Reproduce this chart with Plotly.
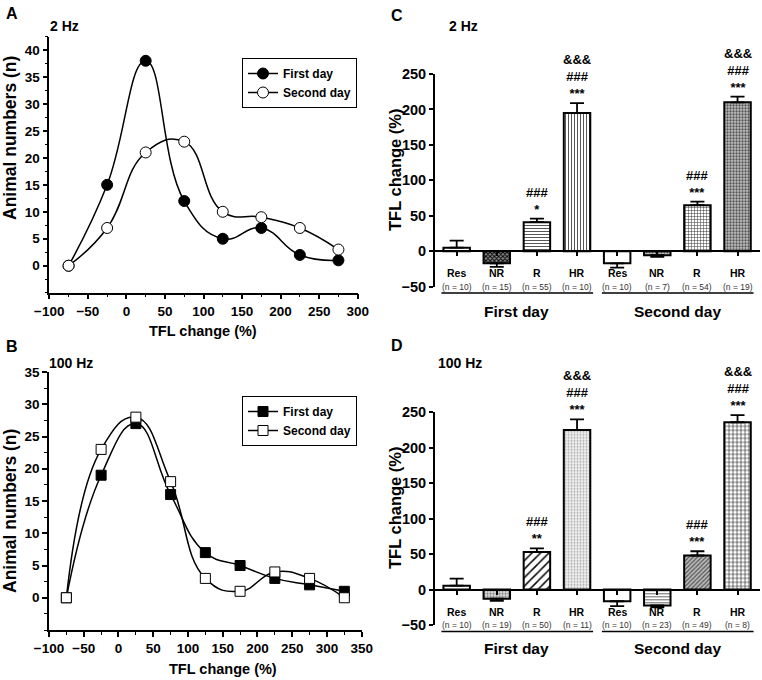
import plotly.graph_objects as go

W, H = 762, 680
F = "Liberation Sans"

# ---------------- data ----------------
a_x = [-75, -25, 25, 75, 125, 175, 225, 275]
a_first = [0, 15, 38, 12, 5, 7, 2, 1]
a_second = [0, 7, 21, 23, 10, 9, 7, 3]

b_x = [-75, -25, 25, 75, 125, 175, 225, 275, 325]
b_first = [0, 19, 27, 16, 7, 5, 3, 2, 1]
b_second = [0, 23, 28, 18, 3, 1, 4, 3, 0]

groups = ["Res", "NR", "R", "HR", "Res", "NR", "R", "HR"]
days = ["First day", "Second day"]

c_n = [10, 15, 55, 10, 10, 7, 54, 19]
c_mean = [5, -17, 41, 195, -17, -5.5, 65, 210]
c_err = [10, 5, 5, 14, 6, 2.5, 5, 8]
c_sig = [[], [], ["*", "###"], ["***", "###", "&&&"], [], [], ["***", "###"], ["***", "###", "&&&"]]

d_n = [10, 19, 50, 11, 10, 23, 49, 8]
d_mean = [5.5, -13, 53, 225, -16.5, -22.5, 48, 236]
d_err = [10, 3, 5, 15, 7, 2.5, 6, 10]
d_sig = [[], [], ["**", "###"], ["***", "###", "&&&"], [], [], ["***", "###"], ["***", "###", "&&&"]]

# bar fill styles (shape, fg, bg, size, solidity)
c_style = [("", "black", "white", 4, 0.3), ("x", "black", "#888", 3, 0.5),
           ("-", "#444", "white", 3, 0.3), ("|", "#444", "white", 3, 0.3),
           ("", "black", "white", 4, 0.3), (".", "#555", "#c8c8c8", 3, 0.4),
           ("+", "#333", "white", 3, 0.3), (".", "#555", "#c0c0c0", 3, 0.45)]
d_style = [("", "black", "white", 4, 0.3), (".", "#777", "#ddd", 3, 0.4),
           ("/", "black", "white", 6, 0.25), (".", "#aaa", "#f2f2f2", 3, 0.35),
           ("", "black", "white", 4, 0.3), ("-", "#555", "white", 3, 0.3),
           ("/", "#555", "#bbb", 3, 0.4), ("+", "black", "white", 4, 0.25)]


def px(x):
    return x / W


def py(y):
    return 1 - y / H


fig = go.Figure()

# ---------------- line panels ----------------
line_kw = dict(mode="lines+markers", line=dict(color="black", width=1.5, shape="spline", smoothing=1.3))
fig.add_trace(go.Scatter(x=a_x, y=a_first, name="First day", xaxis="x", yaxis="y", legend="legend",
                         marker=dict(symbol="circle", size=11, color="black", line=dict(color="black", width=1)),
                         **line_kw))
fig.add_trace(go.Scatter(x=a_x, y=a_second, name="Second day", xaxis="x", yaxis="y", legend="legend",
                         marker=dict(symbol="circle", size=11, color="white", line=dict(color="black", width=1)),
                         **line_kw))
fig.add_trace(go.Scatter(x=b_x, y=b_first, name="First day", xaxis="x2", yaxis="y2", legend="legend2",
                         marker=dict(symbol="square", size=10, color="black", line=dict(color="black", width=1)),
                         **line_kw))
fig.add_trace(go.Scatter(x=b_x, y=b_second, name="Second day", xaxis="x2", yaxis="y2", legend="legend2",
                         marker=dict(symbol="square", size=10, color="white", line=dict(color="black", width=1)),
                         **line_kw))

# ---------------- bar panels ----------------
pos = list(range(len(groups)))


def add_bars(mean, err, style, xa, ya):
    for i, (m, e, st) in enumerate(zip(mean, err, style)):
        shape, fg, bg, size, sol = st
        fig.add_trace(go.Bar(
            x=[pos[i]], y=[m], width=0.66, xaxis=xa, yaxis=ya, showlegend=False,
            marker=dict(color="white", line=dict(color="black", width=2),
                        pattern=dict(shape=shape, fgcolor=fg, bgcolor=bg, size=size, solidity=sol,
                                     fillmode="replace")),
            error_y=dict(type="data", symmetric=False,
                         array=[e if m >= 0 else 0], arrayminus=[e if m < 0 else 0],
                         color="black", thickness=1.8, width=7),
        ))


add_bars(c_mean, c_err, c_style, "x3", "y3")
add_bars(d_mean, d_err, d_style, "x4", "y4")

# ---------------- axes ----------------
tickfont = dict(family=F, size=13.5, color="black", weight="bold")
lin_ax = dict(showline=True, linecolor="black", linewidth=1.5, ticks="outside", ticklen=5, tickwidth=1.5,
              tickcolor="black", showgrid=False, zeroline=False, tickfont=tickfont, automargin=False)

A_dom_x = [px(49.3), px(357.7)]
A_dom_y = [py(292.7), py(36.5)]
B_dom_x = [px(49), px(361.7)]
B_dom_y = [py(630), py(372)]

C_dom_x = [px(435), px(760)]
C_dom_y = [py(286.7), py(74)]
D_dom_x = [px(435), px(760)]
D_dom_y = [py(625), py(412.3)]

bar_range = [-50, 250]
cat_range = [-0.54, 7.56]


def zero_pos(dom):
    return dom[0] + (0 - bar_range[0]) / (bar_range[1] - bar_range[0]) * (dom[1] - dom[0])


bar_x = dict(anchor="free", range=cat_range, tickmode="array", tickvals=pos, showticklabels=False,
             ticks="outside", ticklen=4, tickwidth=1.5, tickcolor="black", showline=True, linecolor="black",
             linewidth=2, showgrid=False, zeroline=False, automargin=False)
bar_y = dict(range=bar_range, tickmode="array", tickvals=list(range(-50, 251, 50)),
             showline=True, linecolor="black", linewidth=2, ticks="outside", ticklen=4, tickwidth=2,
             tickcolor="black", showgrid=False, zeroline=False, automargin=False,
             tickfont=dict(family=F, size=14.5, color="black", weight="bold"))
minor_x = dict(ticks="outside", ticklen=3, tickwidth=1.2, tickcolor="black", tick0=0, dtick=25)
minor_y = dict(tickmode="linear", ticks="outside", ticklen=3, tickwidth=1.2, tickcolor="black", tick0=0, dtick=2.5)
leg = dict(xanchor="left", yanchor="top", bordercolor="black", borderwidth=1, bgcolor="white",
           font=dict(family=F, size=12, color="black", weight="bold"), itemwidth=30, tracegroupgap=0)

fig.update_layout(
    width=W, height=H, autosize=False,
    margin=dict(l=0, r=0, t=0, b=0, pad=0, autoexpand=False),
    paper_bgcolor="white", plot_bgcolor="rgba(0,0,0,0)",
    font=dict(family=F, color="black"),
    barmode="overlay",
    xaxis=dict(domain=A_dom_x, anchor="y", range=[-100, 300], tick0=-100, dtick=50, minor=minor_x, **lin_ax),
    yaxis=dict(domain=A_dom_y, anchor="x", range=[-5, 42.5], tickmode="array", tickvals=list(range(0, 41, 5)),
               minor=minor_y, **lin_ax),
    xaxis2=dict(domain=B_dom_x, anchor="y2", range=[-100, 350], tick0=-100, dtick=50, minor=minor_x, **lin_ax),
    yaxis2=dict(domain=B_dom_y, anchor="x2", range=[-5, 35], tickmode="array", tickvals=list(range(0, 36, 5)),
                minor=minor_y, **lin_ax),
    xaxis3=dict(domain=C_dom_x, position=zero_pos(C_dom_y), **bar_x),
    yaxis3=dict(domain=C_dom_y, anchor="x3", **bar_y),
    xaxis4=dict(domain=D_dom_x, position=zero_pos(D_dom_y), **bar_x),
    yaxis4=dict(domain=D_dom_y, anchor="x4", **bar_y),
    legend=dict(x=px(242), y=py(58), **leg),
    legend2=dict(x=px(242), y=py(396), **leg),
)

ann = []
shapes = []


def text(x, y, s, size, bold=True, rot=0, xanchor="center", color="black"):
    ann.append(dict(x=px(x), y=py(y), xref="paper", yref="paper", text=s, showarrow=False, textangle=rot,
                    xanchor=xanchor, yanchor="middle",
                    font=dict(family=F, size=size, color=color, weight="bold" if bold else "normal")))


# panel letters & subtitles
text(4, 13, "A", 16, xanchor="left")
text(48, 26, "2 Hz", 14, xanchor="left")
text(4, 346, "B", 16, xanchor="left")
text(47, 363, "100 Hz", 14, xanchor="left")
text(389, 15, "C", 16, xanchor="left")
text(447, 26, "2 Hz", 14, xanchor="left")
text(389, 345, "D", 16, xanchor="left")
text(436, 363, "100 Hz", 14, xanchor="left")

# axis titles
text(10, 138, "Animal numbers (n)", 17.5, rot=-90)
text(203, 331, "TFL change (%)", 14.5)
text(10, 511, "Animal numbers (n)", 17.5, rot=-90)
text(223, 669, "TFL change (%)", 14.5)
text(395, 170, "TFL change (%)", 16.5, rot=-90)
text(395, 508, "TFL change (%)", 16.5, rot=-90)


def bar_labels(xref, yref, ns, means, errs, sigs, lab_y, n_y, line_y, day_y):
    for i, g in enumerate(groups):
        ann.append(dict(x=pos[i], y=py(lab_y), xref=xref, yref="paper", text=g, showarrow=False,
                        font=dict(family=F, size=10.5, color="black", weight="bold"), yanchor="middle"))
        ann.append(dict(x=pos[i], y=py(n_y), xref=xref, yref="paper", text="(n = %d)" % ns[i], showarrow=False,
                        font=dict(family=F, size=8.5, color="#333"), yanchor="middle"))
        top = means[i] + errs[i] if means[i] >= 0 else means[i]
        if sigs[i]:
            ann.append(dict(x=pos[i], y=top, xref=xref, yref=yref, text="<br>".join(reversed(sigs[i])),
                            showarrow=False, yanchor="bottom", yshift=0,
                            font=dict(family=F, size=13, color="black", weight="bold")))
    for d, day in enumerate(days):
        idx = [i for i in pos if i // 4 == d]
        shapes.append(dict(type="line", xref=xref, yref="paper", x0=idx[0] - 0.38, x1=idx[-1] + 0.4,
                           y0=py(line_y), y1=py(line_y), line=dict(color="black", width=1.5)))
        ann.append(dict(x=sum(idx) / len(idx), y=py(day_y), xref=xref, yref="paper", text=day, showarrow=False,
                        font=dict(family=F, size=15.5, color="black", weight="bold"), yanchor="middle"))


bar_labels("x3", "y3", c_n, c_mean, c_err, c_sig, 273, 286.5, 293, 312)
bar_labels("x4", "y4", d_n, d_mean, d_err, d_sig, 611.5, 625, 631.5, 648)

fig.update_layout(annotations=ann, shapes=shapes)
fig.write_html("out.html", config={"displayModeBar": False},
               post_script="document.body.style.margin='0';document.body.style.padding='0';")
